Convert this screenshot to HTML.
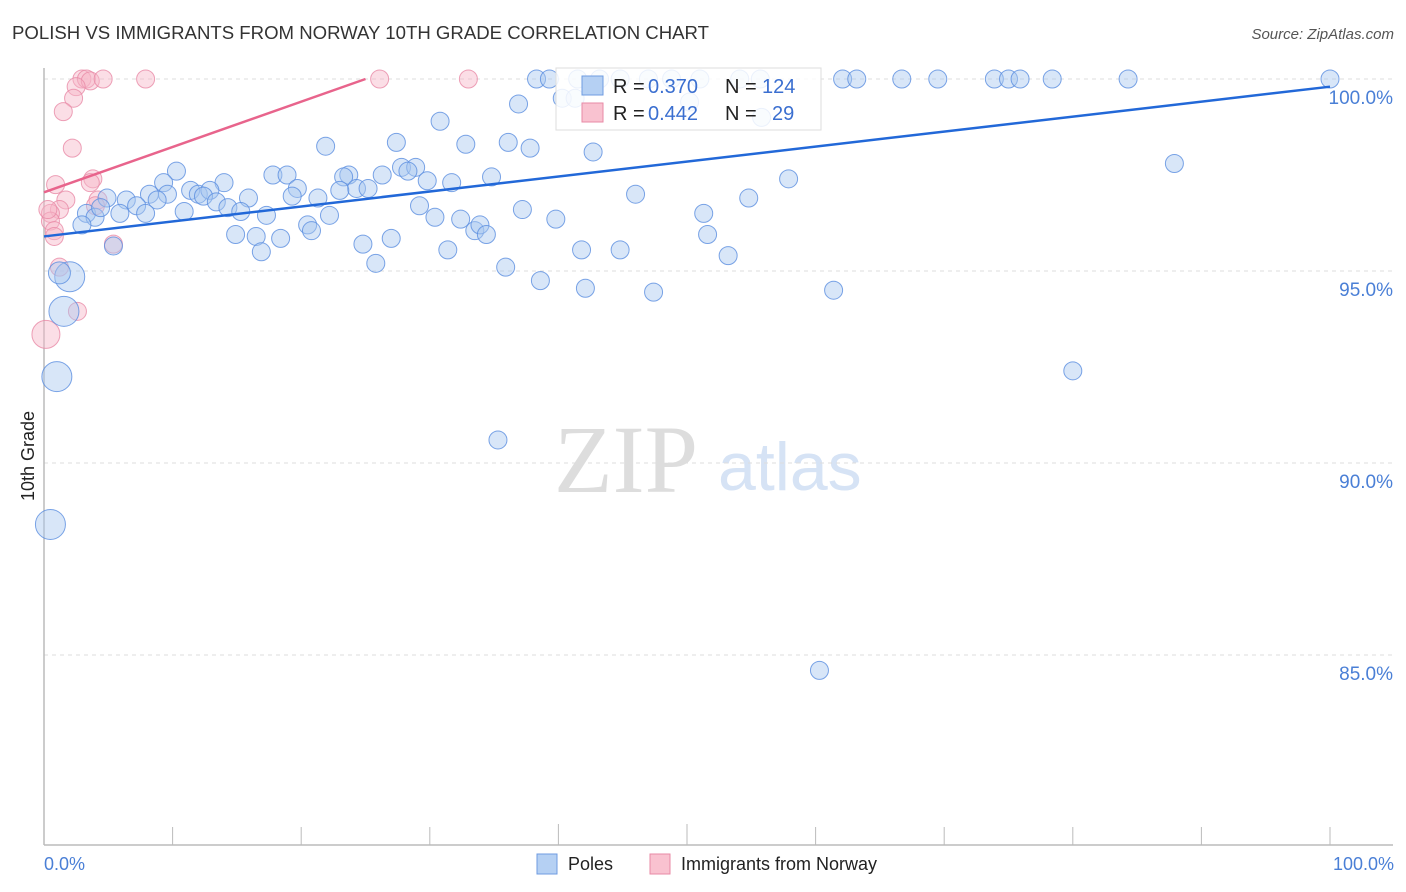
<!DOCTYPE html>
<html><head><meta charset="utf-8"><style>
body{margin:0;background:#fff;font-family:"Liberation Sans",sans-serif;}
#wrap{position:relative;width:1406px;height:892px;overflow:hidden;}
svg{position:absolute;left:0;top:0;}
</style></head><body>
<div id="wrap">
<svg id="s" width="1406" height="892">
<text x="12" y="39" font-size="18.6" fill="#333">POLISH VS IMMIGRANTS FROM NORWAY 10TH GRADE CORRELATION CHART</text>
<text x="1394" y="39" font-size="15" fill="#555" font-style="italic" text-anchor="end">Source: ZipAtlas.com</text>
<text x="34" y="456" font-size="18" fill="#222" transform="rotate(-90 34 456)" text-anchor="middle">10th Grade</text>
<text x="554" y="492" font-size="96" fill="#ddd" font-family="Liberation Serif,serif">ZIP</text>
<text x="718" y="490" font-size="68" fill="#d6e3f5">atlas</text>
<g id="grid"></g><g id="pts"></g><g id="lines"></g>
<g>
<rect x="556" y="68" width="265" height="62" fill="#fff" fill-opacity="0.85" stroke="#ddd"/>
<rect x="582" y="76" width="21" height="19" fill="#b5d0f3" stroke="#6f9be0"/>
<rect x="582" y="103" width="21" height="19" fill="#f9c2d0" stroke="#e88aa6"/>
<text x="613" y="93" font-size="20" fill="#222">R =</text>
<text x="648" y="93" font-size="20" fill="#3b6fd0">0.370</text>
<text x="725" y="93" font-size="20" fill="#222">N =</text>
<text x="762" y="93" font-size="20" fill="#3b6fd0">124</text>
<text x="613" y="120" font-size="20" fill="#222">R =</text>
<text x="648" y="120" font-size="20" fill="#3b6fd0">0.442</text>
<text x="725" y="120" font-size="20" fill="#222">N =</text>
<text x="772" y="120" font-size="20" fill="#3b6fd0">29</text>
</g>
<text x="44" y="870" font-size="18" fill="#4a7fd6">0.0%</text>
<text x="1394" y="870" font-size="18" fill="#4a7fd6" text-anchor="end">100.0%</text>
<rect x="537" y="854" width="20" height="20" fill="#b5d0f3" stroke="#6f9be0"/>
<text x="568" y="870" font-size="18" fill="#222">Poles</text>
<rect x="650" y="854" width="20" height="20" fill="#f9c2d0" stroke="#e88aa6"/>
<text x="681" y="870" font-size="18" fill="#222">Immigrants from Norway</text>
</svg>
</div>
<script>
const yTicks=[100,95,90,85];
const yTickLabels=["100.0%","95.0%","90.0%","85.0%"];
const blueX=[100,38.3,39.3,41.5,43.2,44.8,47,48.8,51,54.1,55.7,62.1,63.2,66.7,69.5,73.9,75,75.9,78.4,84.3,40.3,41.3,50.2,55.8,36.9,30.8,36.1,37.8,32.8,21.9,27.4,42.7,87.9,10.3,17.8,18.9,23.7,23.3,26.3,27.8,28.9,28.3,29.8,31.7,34.8,57.9,9.3,14,19.7,24.3,25.2,23,4.9,8.2,9.6,11.4,12,12.9,12.4,13.4,15.9,19.3,21.3,6.4,7.2,8.8,46,54.8,14.3,15.3,10.9,17.3,22.2,29.2,30.4,32.4,37.2,39.8,51.3,3.3,3.97,5.9,7.9,4.4,2.95,20.5,20.8,33.5,33.9,34.4,14.9,16.5,18.4,27,51.6,5.4,24.8,16.9,31.4,41.8,44.8,53.2,25.8,35.9,38.6,42.1,47.4,61.4,80,35.3,60.3,2,1.2,1.55,1,0.5];
const blueY=[100,100,100,100,100,100,100,100,100,100,100,100,100,100,100,100,100,100,100,100,99.5,99.5,99.4,99,99.35,98.9,98.35,98.2,98.3,98.25,98.35,98.1,97.8,97.6,97.5,97.5,97.5,97.45,97.5,97.7,97.7,97.6,97.35,97.3,97.45,97.4,97.3,97.3,97.15,97.15,97.15,97.1,96.9,97,97,97.1,97,97.1,96.95,96.8,96.9,96.95,96.9,96.85,96.7,96.85,97,96.9,96.65,96.55,96.55,96.45,96.45,96.7,96.4,96.35,96.6,96.35,96.5,96.5,96.4,96.5,96.5,96.65,96.2,96.2,96.05,96.05,96.2,95.95,95.95,95.9,95.85,95.85,95.95,95.65,95.7,95.5,95.55,95.55,95.55,95.4,95.2,95.1,94.75,94.55,94.45,94.5,92.4,90.6,84.6,94.85,94.95,93.95,92.25,88.4];
const blueSize=[9,9,9,9,9,9,9,9,9,9,9,9,9,9,9,9,9,9,9,9,9,9,9,9,9,9,9,9,9,9,9,9,9,9,9,9,9,9,9,9,9,9,9,9,9,9,9,9,9,9,9,9,9,9,9,9,9,9,9,9,9,9,9,9,9,9,9,9,9,9,9,9,9,9,9,9,9,9,9,9,9,9,9,9,9,9,9,9,9,9,9,9,9,9,9,9,9,9,9,9,9,9,9,9,9,9,9,9,9,9,9,15,11,15,15,15];
const pinkX=[2.95,3.3,3.6,4.6,7.9,26.1,33,2.5,2.3,1.5,2.2,3.8,3.6,0.9,4.2,1.7,1.2,0.5,0.5,4,0.8,0.8,5.4,1.2,2.6,0.15,0.3];
const pinkY=[100,100,99.95,100,100,100,100,99.8,99.5,99.15,98.2,97.4,97.3,97.25,96.85,96.85,96.6,96.5,96.3,96.7,96.05,95.9,95.7,95.1,93.95,93.35,96.6];
const pinkSize=[9,9,9,9,9,9,9,9,9,9,9,9,9,9,9,9,9,9,9,9,9,9,9,9,9,14,9];
const blueTrend=[[0,95.9],[100,99.8]];
const pinkTrend=[[0,97.05],[25,100]];
const X0=44,X1=1330,Y100=79,PX_PER=38.4;
const sx=v=>X0+(X1-X0)*v/100;
const sy=v=>Y100+(100-v)*PX_PER;
const NS="http://www.w3.org/2000/svg";
function mk(t,a,p){const e=document.createElementNS(NS,t);for(const k in a)e.setAttribute(k,a[k]);p.appendChild(e);return e;}
const g=document.getElementById('grid');
yTicks.forEach((t,i)=>{
 const l=mk('line',{x1:44,x2:1393,y1:sy(t),y2:sy(t),stroke:'#ddd','stroke-dasharray':'4 4'},g);
 
 
 const tx=mk('text',{x:1393,y:sy(t)+25,'font-size':19,fill:'#4a7fd6','text-anchor':'end'},g);
 tx.textContent=yTickLabels[i];
 
 
});
const ax=mk('line',{x1:44,x2:44,y1:68,y2:845,stroke:'#bbb','stroke-width':1.5},g);


const bx=mk('line',{x1:44,x2:1393,y1:845,y2:845,stroke:'#bbb','stroke-width':1.5},g);


for(let i=0;i<=10;i++){const x=sx(i*10);const tk=mk('line',{x1:x,x2:x,y1:845,y2:(i==4||i==5)?824:827,stroke:'#bbb'},g);
 
 }
const P=document.getElementById('pts');
pinkX.forEach((x,i)=>{const c=mk('circle',{cx:sx(x),cy:sy(pinkY[i]),r:pinkSize[i],fill:'#f7b6c8','fill-opacity':0.45,stroke:'#e88aa6','stroke-opacity':0.8},P);
 
 });
blueX.forEach((x,i)=>{const c=mk('circle',{cx:sx(x),cy:sy(blueY[i]),r:blueSize[i],fill:'#a9c8f0','fill-opacity':0.45,stroke:'#5a8de0','stroke-opacity':0.8},P);
 
 });
const L=document.getElementById('lines');
const bl=mk('line',{x1:sx(blueTrend[0][0]),y1:sy(blueTrend[0][1]),x2:sx(blueTrend[1][0]),y2:sy(blueTrend[1][1]),stroke:'#2268d8','stroke-width':2.5},L);


const pl=mk('line',{x1:sx(pinkTrend[0][0]),y1:sy(pinkTrend[0][1]),x2:sx(pinkTrend[1][0]),y2:sy(pinkTrend[1][1]),stroke:'#e8648c','stroke-width':2.5},L);


</script>
</body></html>
